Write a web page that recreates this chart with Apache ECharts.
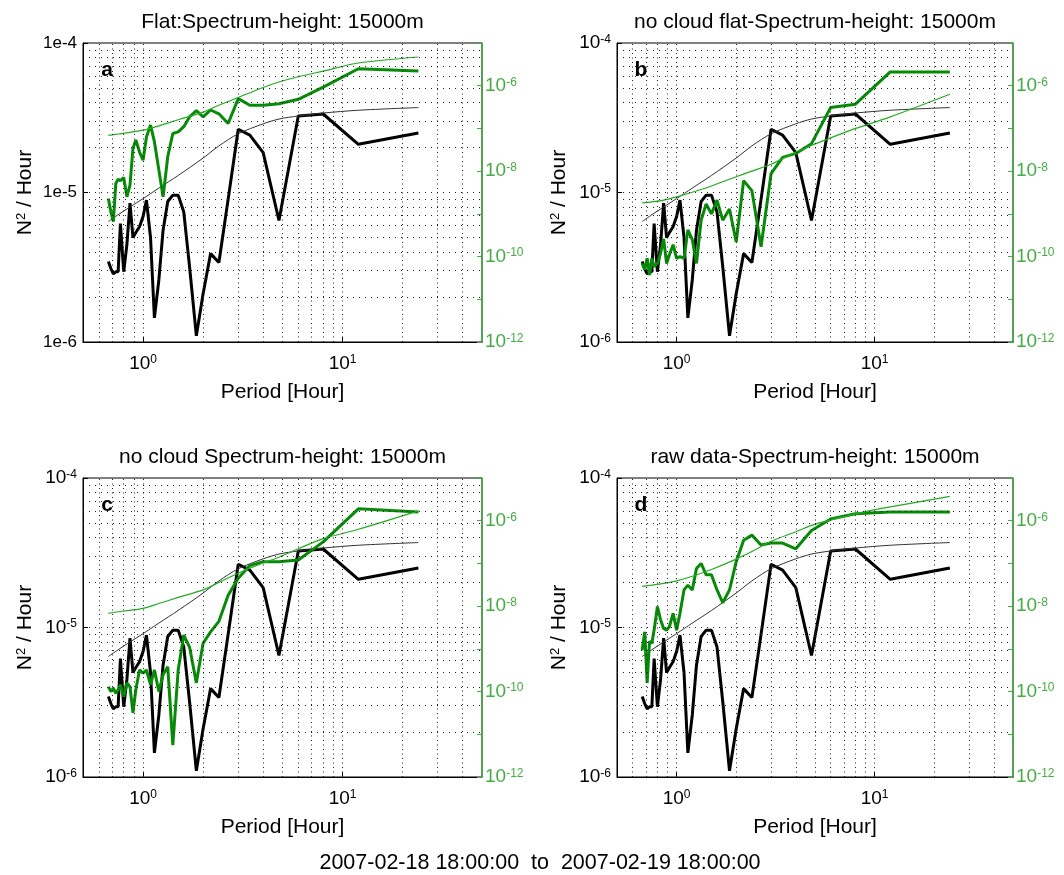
<!DOCTYPE html>
<html><head><meta charset="utf-8">
<script src="https://cdn.jsdelivr.net/npm/echarts@6/dist/echarts.min.js"></script>
<style>html,body{margin:0;padding:0;background:#fff}#c{width:1064px;height:875px}</style>
</head><body><div id="c"></div>
<script>
// ---------- data ----------
const periods = [24, 12, 8, 6, 4.8, 4, 3.43, 3, 2.67, 2.4, 2.18, 2, 1.85, 1.71, 1.6, 1.5, 1.41, 1.33, 1.26, 1.2, 1.14, 1.09, 1.04, 1, 0.96, 0.92, 0.89, 0.86, 0.83, 0.8, 0.77, 0.75, 0.73, 0.71, 0.69, 0.67];
const blackSpectrum = [2.5e-5, 2.1e-5, 3.35e-5, 3.25e-5, 6.5e-6, 1.85e-5, 2.42e-5, 2.65e-5, 9e-6, 3.4e-6, 3.9e-6, 2.1e-6, 1.1e-6, 3.2e-6, 7.4e-6, 9.6e-6, 9.6e-6, 8.7e-6, 5.6e-6, 2.6e-6, 1.45e-6, 5.0e-6, 8.9e-6, 6.9e-6, 5.9e-6, 5.4e-6, 5.0e-6, 8.5e-6, 4.5e-6, 2.95e-6, 6.2e-6, 2.95e-6, 2.95e-6, 2.85e-6, 3.1e-6, 3.45e-6];
const fitPeriods = [24, 12, 8, 6, 4.8, 4, 3, 2.4, 2, 1.5, 1.2, 1, 0.86, 0.75, 0.67];
const blackFit = [3.7e-5, 3.55e-5, 3.4e-5, 3.25e-5, 3.1e-5, 2.88e-5, 2.47e-5, 2.05e-5, 1.7e-5, 1.3e-5, 1.07e-5, 9.1e-6, 8.0e-6, 7.1e-6, 6.4e-6];

const greenA = [2.2e-6, 2.5e-6, 9.3e-7, 4.8e-7, 3.8e-7, 3.5e-7, 3.5e-7, 5.0e-7, 1.3e-7, 2.2e-7, 2.7e-7, 1.86e-7, 2.6e-7, 1.86e-7, 1.1e-7, 8.3e-8, 7.6e-8, 2.2e-8, 2.5e-9, 1.07e-8, 4.9e-8, 1.2e-7, 6.3e-8, 1.8e-8, 2.8e-8, 5.4e-8, 3.4e-8, 4.7e-9, 2.5e-9, 7.1e-9, 6.0e-9, 6.5e-9, 5.1e-9, 6.6e-10, 1.1e-9, 2.3e-9];
const greenFitA = [4.7e-6, 3.4e-6, 2.2e-6, 1.62e-6, 1.22e-6, 9.1e-7, 5.3e-7, 3.5e-7, 2.4e-7, 1.6e-7, 1.15e-7, 9.1e-8, 8.1e-8, 7.4e-8, 6.9e-8];

const greenB = [2.1e-6, 2.1e-6, 3.7e-7, 3.1e-7, 4.4e-8, 2.6e-8, 2.1e-8, 8.7e-9, 1.7e-10, 3.5e-9, 6.0e-9, 2.2e-10, 1.3e-9, 7.1e-10, 2.1e-9, 1.0e-9, 1.7e-9, 7.1e-10, 6.9e-11, 2.5e-10, 4.2e-10, 9.1e-11, 1.0e-10, 9.1e-11, 1.9e-10, 1.1e-10, 6.9e-11, 2.6e-10, 1.2e-10, 6.9e-11, 5.8e-11, 9.1e-11, 3.7e-11, 9.1e-11, 4.9e-11, 6.9e-11];
const greenFitB = [6.3e-7, 1.86e-7, 1.0e-7, 6.0e-8, 4.0e-8, 2.8e-8, 1.45e-8, 1.0e-8, 7.4e-9, 4.5e-9, 3.2e-9, 2.5e-9, 2.1e-9, 1.9e-9, 1.8e-9];

const greenC = [1.6e-6, 1.9e-6, 3.2e-7, 1.2e-7, 1.1e-7, 1.1e-7, 8.9e-8, 4.5e-8, 1.8e-8, 4.4e-9, 2.5e-9, 1.35e-9, 1.6e-10, 1.1e-9, 2.1e-9, 3.2e-10, 5.6e-12, 3.8e-10, 2.5e-10, 1.0e-10, 3.2e-10, 1.45e-10, 3.2e-10, 2.7e-10, 3.2e-10, 1.1e-10, 3.2e-11, 1.3e-10, 1.6e-10, 7.6e-11, 1.45e-10, 1.1e-10, 9.1e-11, 1.2e-10, 1.0e-10, 1.3e-10];
const greenFitC = [1.7e-6, 6.3e-7, 3.8e-7, 2.2e-7, 1.4e-7, 1.02e-7, 5.9e-8, 3.6e-8, 2.4e-8, 1.6e-8, 1.15e-8, 8.9e-9, 8.0e-9, 7.4e-9, 6.8e-9];

const greenD = [1.6e-6, 1.6e-6, 1.45e-6, 1.1e-6, 5.9e-7, 2.2e-7, 3.0e-7, 3.0e-7, 2.7e-7, 4.6e-7, 3.5e-7, 1.1e-7, 2.4e-8, 1.2e-8, 2.4e-8, 5.4e-8, 5.4e-8, 1.0e-7, 7.6e-8, 2.4e-8, 3.1e-8, 2.4e-8, 6.8e-9, 2.75e-9, 6.8e-9, 3.3e-9, 2.75e-9, 3.0e-9, 4.8e-9, 9.8e-9, 2.75e-9, 1.35e-9, 1.5e-9, 1.6e-10, 2.5e-9, 9.3e-10];
const greenFitD = [3.7e-6, 2.1e-6, 1.45e-6, 1.05e-6, 7.8e-7, 5.5e-7, 3.3e-7, 1.9e-7, 1.26e-7, 7.2e-8, 5.0e-8, 3.9e-8, 3.4e-8, 3.1e-8, 2.9e-8];

const panelTitles = ['Flat:Spectrum-height: 15000m', 'no cloud flat-Spectrum-height: 15000m', 'no cloud Spectrum-height: 15000m', 'raw data-Spectrum-height: 15000m'];
const panelLetters = ['a', 'b', 'c', 'd'];
const greenSeries = [greenA, greenB, greenC, greenD];
const greenFits = [greenFitA, greenFitB, greenFitC, greenFitD];
const xAxisName = 'Period [Hour]';
const yAxisName = 'N{sup|2} / Hour';
const footerText = '2007-02-18 18:00:00  to  2007-02-19 18:00:00';
const xRange = [0.5, 50];
const yLeftRange = [1e-6, 1e-4];
const yRightRange = [1e-12, 1e-5];
const gridXValues = [0.6, 0.7, 0.8, 0.9, 1, 2, 3, 4, 5, 6, 7, 8, 9, 10, 20, 30, 40];
const gridYValues = [2e-6, 3e-6, 4e-6, 5e-6, 6e-6, 7e-6, 8e-6, 9e-6, 1e-5, 2e-5, 3e-5, 4e-5, 5e-5, 6e-5, 7e-5, 8e-5, 9e-5];

// ---------- layout / style ----------
const FONT = '"Liberation Sans", Arial, sans-serif';
const GREEN_AXIS = '#46ac46';
const GREEN_THICK = '#078a07';
const GREEN_THIN = '#25aa25';
const boxes = [
  {left: 83, top: 43, width: 399, height: 299},
  {left: 617, top: 43, width: 396, height: 299},
  {left: 83, top: 478, width: 399, height: 299},
  {left: 617, top: 478, width: 396, height: 299}
];

function expOf(v) {
  const e = Math.log10(v);
  const r = Math.round(e);
  return Math.abs(e - r) < 1e-6 ? r : null;
}
const supRich = (size, col) => ({sup: {fontSize: size, verticalAlign: 'top', color: col, fontFamily: FONT}});
const vLineStyle = {type: [1, 3.5], color: '#222', width: 1};
const hLineStyle = {type: [1, 5], color: '#222', width: 1};

const grid = [], xAxis = [], yAxis = [], series = [], graphic = [];
boxes.forEach((b, i) => {
  grid.push(Object.assign({show: true, borderColor: '#000', borderWidth: 1, backgroundColor: 'transparent', containLabel: false}, b));
  xAxis.push({
    type: 'log', logBase: 10, gridIndex: i, min: xRange[0], max: xRange[1],
    axisLine: {lineStyle: {color: '#000', width: 1}},
    axisTick: {inside: true, length: 5, lineStyle: {color: '#000'}},
    splitLine: {show: false},
    axisLabel: {
      color: '#000', fontSize: 19, fontFamily: FONT, margin: 12, showMinLabel: false, showMaxLabel: false,
      formatter: v => { const e = expOf(v); return e === null ? '' : '10{sup|' + e + '}'; },
      rich: supRich(12, '#000')
    }
  });
  yAxis.push({
    type: 'log', logBase: 10, gridIndex: i, min: yLeftRange[0], max: yLeftRange[1], position: 'left',
    axisLine: {lineStyle: {color: '#000', width: 1}},
    axisTick: {inside: true, length: 5, lineStyle: {color: '#000'}},
    splitLine: {show: false},
    axisLabel: {
      color: '#000', fontSize: i === 0 ? 17 : 19, fontFamily: FONT, margin: 6,
      formatter: v => { const e = expOf(v); if (e === null) return ''; return i === 0 ? '1e' + e : '10{sup|' + e + '}'; },
      rich: supRich(12, '#000')
    }
  });
  yAxis.push({
    type: 'log', logBase: 10, gridIndex: i, min: yRightRange[0], max: yRightRange[1], position: 'right',
    axisLine: {show: true, lineStyle: {color: GREEN_AXIS, width: 1.5}},
    axisTick: {inside: true, length: 5, lineStyle: {color: GREEN_AXIS}},
    splitLine: {show: false},
    axisLabel: {
      color: GREEN_AXIS, fontSize: 19, fontFamily: FONT, margin: 3,
      formatter: v => { const e = expOf(v); if (e === null || e % 2 !== 0 || e > -6) return ''; return '10{sup|' + e + '}'; },
      rich: supRich(12, GREEN_AXIS)
    }
  });
  const yl = 2 * i, yr = 2 * i + 1;
  const gridLines = gridXValues.map(v => [{coord: [v, yLeftRange[0]], lineStyle: vLineStyle}, {coord: [v, yLeftRange[1]]}])
    .concat(gridYValues.map(v => [{coord: [xRange[0], v], lineStyle: hLineStyle}, {coord: [xRange[1], v]}]));
  series.push({
    type: 'line', xAxisIndex: i, yAxisIndex: yl, showSymbol: false, z: 3,
    data: periods.map((p, k) => [p, blackSpectrum[k]]),
    lineStyle: {color: '#000', width: 3}, itemStyle: {color: '#000'},
    markLine: {
      silent: true, symbol: ['none', 'none'], label: {show: false}, animation: false,
      lineStyle: vLineStyle, emphasis: {disabled: true},
      data: gridLines
    }
  });
  series.push({
    type: 'line', xAxisIndex: i, yAxisIndex: yl, showSymbol: false, smooth: 0.3, z: 3,
    data: fitPeriods.map((p, k) => [p, blackFit[k]]),
    lineStyle: {color: '#333', width: 1}, itemStyle: {color: '#333'}
  });
  series.push({
    type: 'line', xAxisIndex: i, yAxisIndex: yr, showSymbol: false, z: 4,
    data: periods.map((p, k) => [p, greenSeries[i][k]]),
    lineStyle: {color: GREEN_THICK, width: 3}, itemStyle: {color: GREEN_THICK}
  });
  series.push({
    type: 'line', xAxisIndex: i, yAxisIndex: yr, showSymbol: false, smooth: 0.3, z: 4,
    data: fitPeriods.map((p, k) => [p, greenFits[i][k]]),
    lineStyle: {color: GREEN_THIN, width: 1.2}, itemStyle: {color: GREEN_THIN}
  });
  const cx = b.left + b.width / 2;
  graphic.push({type: 'text', x: cx, y: b.top - 21, style: {text: panelTitles[i], fontSize: 21, fontFamily: FONT, fill: '#000', align: 'center', verticalAlign: 'middle'}});
  graphic.push({type: 'text', x: b.left + 24, y: b.top + 27, style: {text: panelLetters[i], fontSize: 21, fontWeight: 'bold', fontFamily: FONT, fill: '#000', align: 'center', verticalAlign: 'middle'}});
  graphic.push({type: 'text', x: cx, y: b.top + b.height + 50, style: {text: xAxisName, fontSize: 21, fontFamily: FONT, fill: '#000', align: 'center', verticalAlign: 'middle'}});
  graphic.push({type: 'text', x: b.left - 58, y: b.top + b.height / 2, rotation: Math.PI / 2,
    style: {text: yAxisName, fontSize: 21, fontFamily: FONT, fill: '#000', align: 'center', verticalAlign: 'middle',
      rich: {sup: {fontSize: 13, verticalAlign: 'top', fontFamily: FONT, fill: '#000'}}}});
});
graphic.push({type: 'text', x: 540, y: 863, style: {text: footerText, fontSize: 21.5, fontFamily: FONT, fill: '#000', align: 'center', verticalAlign: 'middle'}});

const chart = echarts.init(document.getElementById('c'), null, {renderer: 'canvas'});
chart.setOption({animation: false, backgroundColor: '#fff', grid, xAxis, yAxis, series, graphic});
</script>
</body></html>
